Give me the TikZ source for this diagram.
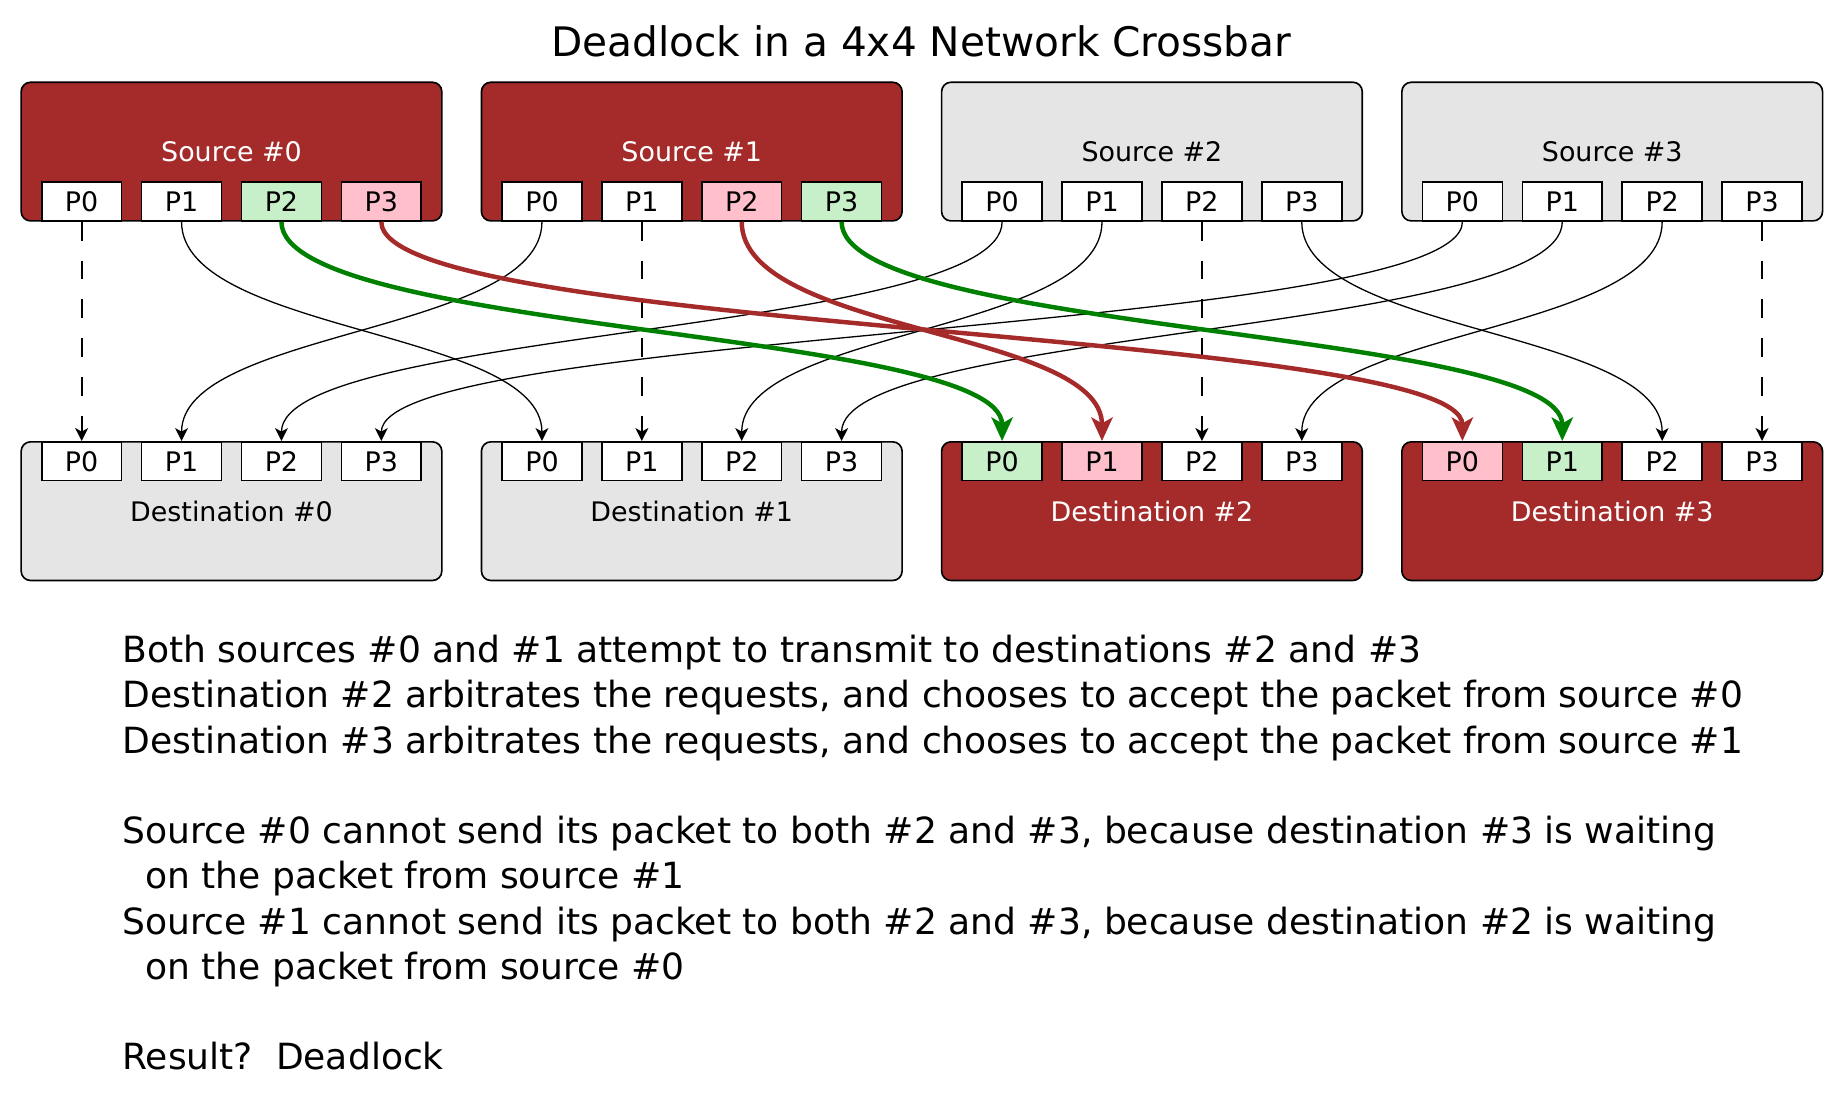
\documentclass[tikz,border=0pt]{standalone}
\usepackage{fontspec}
\setmainfont{DejaVu Sans}
\usepackage{tikz}
\usetikzlibrary{arrows.meta}

\definecolor{boxred}{HTML}{A52A2A}
\definecolor{boxgray}{HTML}{E5E5E5}
\definecolor{portgreen}{HTML}{C8F0C8}
\definecolor{portpink}{HTML}{FFC0CB}
\definecolor{wiregreen}{HTML}{008000}

\begin{document}
\begin{tikzpicture}[x=1pt, y=-1pt,
        unitbox/.style={draw, line width=1.4pt, rounded corners=8pt, inner sep=0pt,
                        minimum width=358pt, minimum height=118pt,
                        font=\fontsize{22.9}{27}\selectfont},
        busy/.style={unitbox, fill=boxred, text=white},
        idle/.style={unitbox, fill=boxgray},
        port/.style={draw, line width=1.4pt, fill=white, inner sep=0pt,
                     minimum width=68pt, minimum height=33pt,
                     font=\fontsize{22.9}{27}\selectfont},
        wire/.style={line width=1.1pt, -{Stealth[length=11pt, width=11pt, inset=3pt]}},
        straight/.style={wire, line width=1.5pt, dash pattern=on 16pt off 17pt},
        okwire/.style={line width=3.8pt, wiregreen, -{Stealth[length=20pt, width=18pt, inset=5pt]}},
        badwire/.style={line width=3.8pt, boxred, -{Stealth[length=20pt, width=18pt, inset=5pt]}},
        say/.style={anchor=base west, inner sep=0pt, font=\fontsize{30.7}{38}\selectfont}]
        \useasboundingbox (0,0) rectangle (1568.4,938.6);

        \node[anchor=base, inner sep=0pt, font=\fontsize{34.6}{40}\selectfont]
              (title) at (784,48) {Deadlock in a 4x4 Network Crossbar};

        \node[busy] (src0) at (197,129)    {Source \#0};        %
        \node[busy] (src1) at (588.7,129)  {Source \#1};        %
        \node[idle] (src2) at (980.3,129)  {Source \#2};        %
        \node[idle] (src3) at (1372,129)   {Source \#3};        %
        \node[idle] (dst0) at (197,435)    {Destination \#0};   %
        \node[idle] (dst1) at (588.7,435)  {Destination \#1};   %
        \node[busy] (dst2) at (980.3,435)  {Destination \#2};   %
        \node[busy] (dst3) at (1372,435)   {Destination \#3};   %

        \node[port]                 (s0p0) at (69.5,171.5)   {P0}; %Source 0
        \node[port]                 (s0p1) at (154.5,171.5)  {P1}; %
        \node[port, fill=portgreen] (s0p2) at (239.5,171.5)  {P2}; %
        \node[port, fill=portpink]  (s0p3) at (324.5,171.5)  {P3}; %
        \node[port]                 (s1p0) at (461.2,171.5)  {P0}; %Source 1
        \node[port]                 (s1p1) at (546.2,171.5)  {P1}; %
        \node[port, fill=portpink]  (s1p2) at (631.2,171.5)  {P2}; %
        \node[port, fill=portgreen] (s1p3) at (716.2,171.5)  {P3}; %
        \node[port]                 (s2p0) at (852.8,171.5)  {P0}; %Source 2
        \node[port]                 (s2p1) at (937.8,171.5)  {P1}; %
        \node[port]                 (s2p2) at (1022.8,171.5) {P2}; %
        \node[port]                 (s2p3) at (1107.8,171.5) {P3}; %
        \node[port]                 (s3p0) at (1244.5,171.5) {P0}; %Source 3
        \node[port]                 (s3p1) at (1329.5,171.5) {P1}; %
        \node[port]                 (s3p2) at (1414.5,171.5) {P2}; %
        \node[port]                 (s3p3) at (1499.5,171.5) {P3}; %

        \node[port]                 (d0p0) at (69.5,392.5)   {P0}; %Destination 0
        \node[port]                 (d0p1) at (154.5,392.5)  {P1}; %
        \node[port]                 (d0p2) at (239.5,392.5)  {P2}; %
        \node[port]                 (d0p3) at (324.5,392.5)  {P3}; %
        \node[port]                 (d1p0) at (461.2,392.5)  {P0}; %Destination 1
        \node[port]                 (d1p1) at (546.2,392.5)  {P1}; %
        \node[port]                 (d1p2) at (631.2,392.5)  {P2}; %
        \node[port]                 (d1p3) at (716.2,392.5)  {P3}; %
        \node[port, fill=portgreen] (d2p0) at (852.8,392.5)  {P0}; %Destination 2
        \node[port, fill=portpink]  (d2p1) at (937.8,392.5)  {P1}; %
        \node[port]                 (d2p2) at (1022.8,392.5) {P2}; %
        \node[port]                 (d2p3) at (1107.8,392.5) {P3}; %
        \node[port, fill=portpink]  (d3p0) at (1244.5,392.5) {P0}; %Destination 3
        \node[port, fill=portgreen] (d3p1) at (1329.5,392.5) {P1}; %
        \node[port]                 (d3p2) at (1414.5,392.5) {P2}; %
        \node[port]                 (d3p3) at (1499.5,392.5) {P3}; %

        \draw[straight] (s0p0.south) -- (d0p0.north);                                  %
        \draw[wire]     (s0p1.south) .. controls +(0,95) and +(0,-95) .. (d1p0.north); %
        \draw[wire]     (s1p0.south) .. controls +(0,95) and +(0,-95) .. (d0p1.north); %
        \draw[straight] (s1p1.south) -- (d1p1.north);                                  %
        \draw[wire]     (s2p0.south) .. controls +(0,95) and +(0,-95) .. (d0p2.north); %
        \draw[wire]     (s2p1.south) .. controls +(0,95) and +(0,-95) .. (d1p2.north); %
        \draw[straight] (s2p2.south) -- (d2p2.north);                                  %
        \draw[wire]     (s2p3.south) .. controls +(0,95) and +(0,-95) .. (d3p2.north); %
        \draw[wire]     (s3p0.south) .. controls +(0,95) and +(0,-95) .. (d0p3.north); %
        \draw[wire]     (s3p1.south) .. controls +(0,95) and +(0,-95) .. (d1p3.north); %
        \draw[wire]     (s3p2.south) .. controls +(0,95) and +(0,-95) .. (d2p3.north); %
        \draw[straight] (s3p3.south) -- (d3p3.north);                                  %

        \draw[badwire]  (s0p3.south) .. controls +(0,95) and +(0,-95) .. (d3p0.north); %
        \draw[badwire]  (s1p2.south) .. controls +(0,95) and +(0,-95) .. (d2p1.north); %
        \draw[okwire]   (s0p2.south) .. controls +(0,95) and +(0,-95) .. (d2p0.north); %
        \draw[okwire]   (s1p3.south) .. controls +(0,95) and +(0,-95) .. (d3p1.north); %

        \node[say] (line1) at (104,564)   {Both sources \#0 and \#1 attempt to transmit to destinations \#2 and \#3};
        \node[say] (line2) at (104,602.5) {Destination \#2 arbitrates the requests, and chooses to accept the packet from source \#0};
        \node[say] (line3) at (104,641)   {Destination \#3 arbitrates the requests, and chooses to accept the packet from source \#1};
        \node[say] (line4) at (104,718)   {Source \#0 cannot send its packet to both \#2 and \#3, because destination \#3 is waiting};
        \node[say] (line5) at (104,756.5) {\hspace*{0.636em}on the packet from source \#1};
        \node[say] (line6) at (104,795)   {Source \#1 cannot send its packet to both \#2 and \#3, because destination \#2 is waiting};
        \node[say] (line7) at (104,833.5) {\hspace*{0.636em}on the packet from source \#0};
        \node[say] (line8) at (104,910.5) {Result?\hspace*{0.636em}Deadlock};
\end{tikzpicture}
\end{document}
